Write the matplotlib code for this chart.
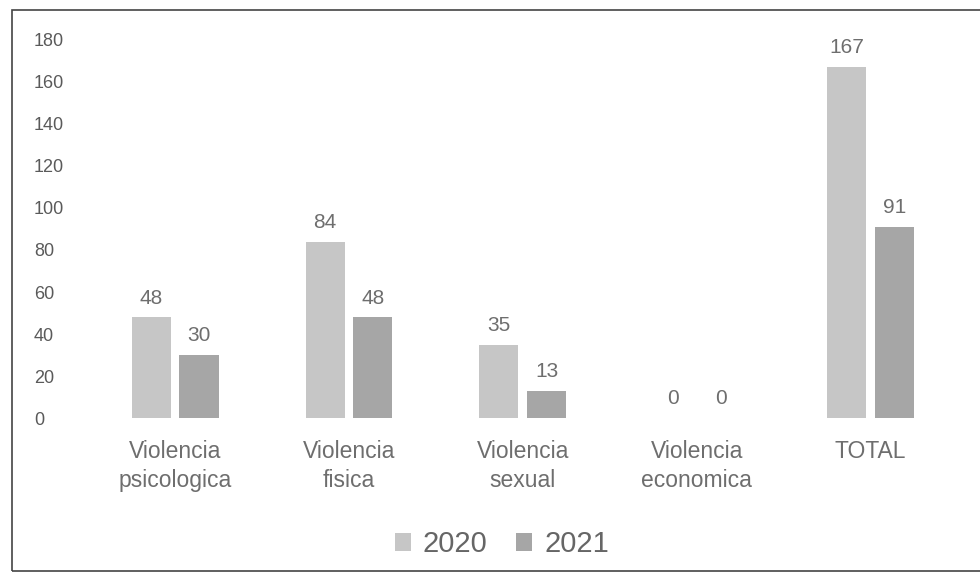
import matplotlib.pyplot as plt
import numpy as np
from matplotlib.patches import Rectangle

plt.rcParams['font.family'] = ['Liberation Sans', 'DejaVu Sans']

categories = ["Violencia\npsicologica", "Violencia\nfisica", "Violencia\nsexual",
              "Violencia\neconomica", "TOTAL"]
values_2020 = [48, 84, 35, 0, 167]
values_2021 = [30, 48, 13, 0, 91]
series_names = ["2020", "2021"]
colors = ["#c6c6c6", "#a6a6a6"]
text_color = "#6e6e6e"

fig = plt.figure(figsize=(9.8, 5.76), dpi=100)
ax = fig.add_axes([0.09, 0.274, 0.887, 0.657])

x = np.arange(len(categories))
w = 0.225
gap = 0.025
b1 = ax.bar(x - w / 2 - gap, values_2020, w, color=colors[0], label=series_names[0])
b2 = ax.bar(x + w / 2 + gap, values_2021, w, color=colors[1], label=series_names[1])

for bars in (b1, b2):
    for rect in bars:
        h = rect.get_height()
        ax.annotate(f"{h:.0f}", (rect.get_x() + rect.get_width() / 2, h),
                    xytext=(0, 7), textcoords="offset points",
                    ha="center", va="bottom", fontsize=15, color=text_color)

ax.set_xlim(-0.5, len(categories) - 0.5)
ax.set_ylim(0, 180)
ax.set_yticks(np.arange(0, 181, 20))
ax.set_xticks(x)
ax.set_xticklabels(categories, fontsize=16.5, color=text_color, linespacing=1.3)
ax.tick_params(axis="y", length=0, pad=39, labelsize=13, labelcolor="#5a5a5a")
for lab in ax.get_yticklabels():
    lab.set_horizontalalignment("left")
ax.tick_params(axis="x", length=0, pad=16)
for s in ax.spines.values():
    s.set_visible(False)

fig.legend(handles=[b1, b2], labels=series_names, loc="center", bbox_to_anchor=(0.512, 0.055),
           ncol=2, frameon=False, fontsize=21, handlelength=0.55, handleheight=0.55,
           handletextpad=0.4, columnspacing=1.0, labelcolor="#666666")

# scanned page frame
fig.add_artist(Rectangle((0.012, 0.008), 1.2, 0.975, transform=fig.transFigure,
                         fill=False, edgecolor="#444444", linewidth=1.2))

fig.savefig("out.png", dpi=100)
